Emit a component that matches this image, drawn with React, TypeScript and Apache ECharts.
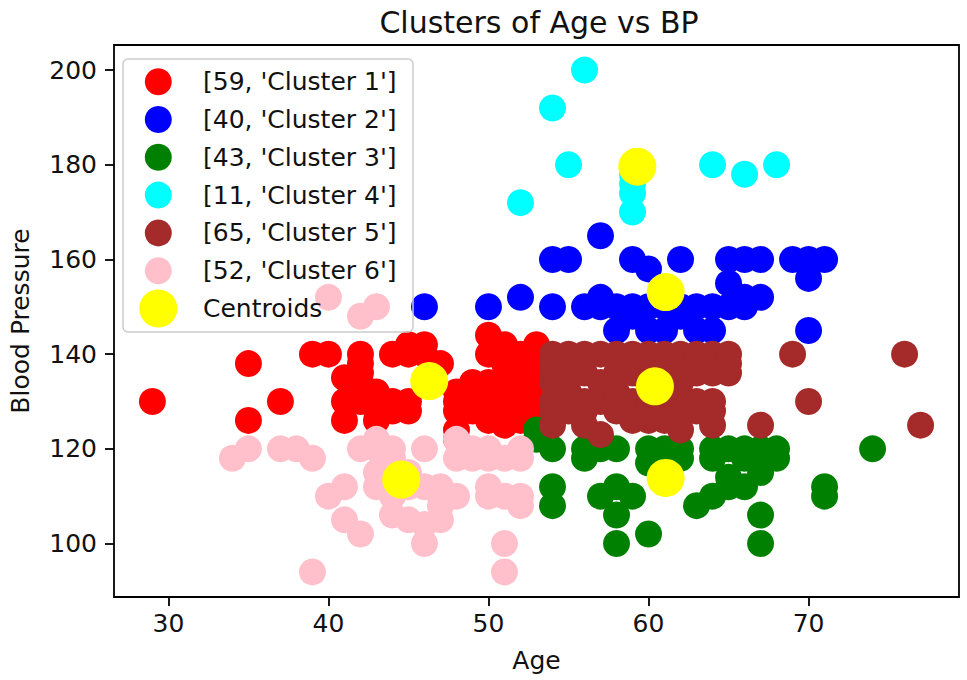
import React, { useEffect, useRef } from "react";
import * as echarts from "echarts";

const xTicks = [30, 40, 50, 60, 70];
const yTicks = [100, 120, 140, 160, 180, 200];

const clusterNames = [
  "[59, 'Cluster 1']",
  "[40, 'Cluster 2']",
  "[43, 'Cluster 3']",
  "[11, 'Cluster 4']",
  "[65, 'Cluster 5']",
  "[52, 'Cluster 6']",
];
const centroidName = "Centroids";
const clusterColors = ["#ff0000", "#0000ff", "#008000", "#00ffff", "#a52a2a", "#ffc0cb"];
const centroidColor = "#ffff00";

// [Age, Blood Pressure]
const cluster1 = [
  [29, 130], [35, 138], [35, 126], [37, 130], [39, 140], [40, 140], [42, 140], [44, 140], [45, 140], [46, 140],
  [45, 142], [47, 138], [41, 135], [42, 136], [41, 130], [42, 130], [43, 130], [44, 130], [45, 130], [41, 126],
  [45, 128], [43, 132], [48, 124], [48, 130], [49, 130], [50, 130], [51, 130], [52, 130], [53, 130], [49, 134],
  [50, 144], [50, 140], [51, 140], [53, 142], [51, 138], [52, 135], [50, 126], [51, 125], [52, 128], [53, 125],
  [52, 140], [44, 128], [42, 134], [46, 142], [48, 122], [53, 138], [53, 134], [52, 126], [51, 134], [42, 138],
  [48, 132], [48, 128], [50, 128], [49, 128], [50, 134], [54, 132], [51, 142], [43, 128], [43, 126],
];
const cluster2 = [
  [46, 150], [50, 150], [52, 152], [54, 150], [54, 160], [55, 160], [57, 165], [59, 160], [60, 158], [62, 160],
  [65, 160], [66, 160], [67, 160], [69, 160], [70, 160], [71, 160], [65, 155], [70, 156], [57, 152], [57, 150],
  [58, 150], [59, 150], [60, 150], [61, 150], [62, 150], [63, 150], [65, 150], [66, 152], [67, 152], [58, 145],
  [60, 145], [61, 145], [63, 145], [64, 145], [70, 145], [59, 148], [64, 150], [66, 150], [56, 150], [62, 148],
];
const cluster3 = [
  [53, 124], [54, 120], [56, 120], [57, 120], [58, 120], [60, 120], [61, 120], [62, 120], [64, 120], [65, 120],
  [66, 120], [67, 120], [68, 120], [74, 120], [71, 112], [71, 110], [68, 118], [67, 115], [66, 112], [65, 112],
  [64, 110], [63, 108], [54, 112], [54, 108], [57, 110], [58, 112], [59, 110], [58, 106], [58, 100], [60, 102],
  [67, 106], [67, 100], [60, 117], [61, 116], [61, 114], [66, 118], [65, 114], [62, 118], [53, 122], [64, 118],
  [67, 118], [61, 113], [56, 118],
];
const cluster4 = [
  [56, 200], [54, 192], [55, 180], [64, 180], [66, 178], [68, 180], [52, 172], [59, 174], [59, 170], [59, 178],
  [59, 176],
];
const cluster5 = [
  [54, 140], [55, 140], [56, 140], [57, 140], [58, 140], [59, 140], [60, 140], [61, 140], [62, 140], [63, 140],
  [64, 140], [65, 140], [54, 136], [55, 136], [56, 136], [58, 136], [59, 136], [60, 136], [61, 136], [62, 136],
  [63, 136], [64, 136], [65, 136], [54, 130], [55, 130], [56, 130], [57, 130], [58, 130], [59, 130], [60, 130],
  [61, 130], [62, 130], [63, 130], [64, 130], [54, 138], [63, 138], [54, 134], [57, 134], [60, 134], [62, 134],
  [55, 132], [58, 132], [61, 132], [54, 128], [56, 128], [58, 128], [60, 128], [62, 128], [64, 128], [54, 125],
  [56, 125], [57, 123], [60, 126], [62, 124], [64, 125], [59, 126], [61, 126], [63, 128], [65, 138], [55, 128],
  [69, 140], [76, 140], [70, 130], [77, 125], [67, 125],
];
const cluster6 = [
  [34, 118], [35, 120], [37, 120], [38, 120], [39, 118], [40, 110], [41, 112], [41, 105], [42, 102], [39, 94],
  [43, 120], [43, 122], [44, 120], [46, 120], [43, 115], [44, 110], [45, 112], [45, 105], [46, 100], [46, 104],
  [47, 110], [47, 112], [48, 110], [48, 122], [49, 118], [49, 120], [50, 120], [50, 110], [51, 110], [51, 100],
  [51, 94], [52, 120], [52, 110], [52, 108], [51, 118], [42, 120], [44, 118], [44, 112], [44, 106], [47, 108],
  [42, 148], [43, 150], [40, 152], [50, 112], [48, 118], [45, 115], [46, 112], [47, 105], [52, 118], [50, 118],
  [44, 115], [43, 112],
];
const centroids = [
  [46.3, 134.3], [61.07, 153.1], [61.07, 113.85], [59.3, 179.6], [60.4, 133.2], [44.55, 113.5],
];

const FONT = "DejaVu Sans";

export default function App() {
  const ref = useRef<HTMLDivElement>(null);
  useEffect(() => {
    if (!ref.current) return;
    const chart = echarts.init(ref.current, null, { renderer: "svg" });
    const clusters = [cluster1, cluster2, cluster3, cluster4, cluster5, cluster6];
    const series: any[] = clusters.map((d, i) => ({
      type: "scatter",
      name: clusterNames[i],
      data: d,
      symbol: "circle",
      symbolSize: 27,
      itemStyle: { color: clusterColors[i], opacity: 1 },
      emphasis: { disabled: true },
    }));
    series.push({
      type: "scatter",
      name: centroidName,
      data: centroids,
      symbol: "circle",
      symbolSize: 38,
      itemStyle: { color: centroidColor, opacity: 1 },
      emphasis: { disabled: true },
    });

    const legendNames = [...clusterNames, centroidName];
    const legendColors = [...clusterColors, centroidColor];
    const graphic: any[] = [
      {
        type: "rect",
        z: 100,
        shape: { x: 123, y: 59, width: 290, height: 273, r: 5 },
        style: { fill: "rgba(255,255,255,0)", stroke: "#cccccc", lineWidth: 1.5 },
      },
    ];
    legendNames.forEach((n, i) => {
      const cy = 81.7 + i * 37.8;
      graphic.push({
        type: "circle",
        z: 101,
        shape: { cx: 158.3, cy, r: i === 6 ? 19 : 13.5 },
        style: { fill: legendColors[i] },
      });
      graphic.push({
        type: "text",
        z: 101,
        x: 203,
        y: cy,
        style: {
          text: n,
          fontFamily: FONT,
          fontSize: 25,
          fill: "#111",
          align: "left",
          verticalAlign: "middle",
        },
      });
    });

    chart.setOption({
      animation: false,
      backgroundColor: "#ffffff",
      title: {
        text: "Clusters of Age vs BP",
        left: 534,
        top: 2,
        textAlign: "center",
        textStyle: { fontFamily: FONT, fontSize: 30, fontWeight: "normal", color: "#111" },
      },
      grid: {
        left: 109,
        right: 8,
        top: 45,
        bottom: 83,
        show: true,
        borderColor: "#000",
        borderWidth: 1.8,
        containLabel: false,
      },
      xAxis: {
        type: "value",
        min: 26.6,
        max: 79.4,
        name: "Age",
        nameLocation: "middle",
        nameGap: 51,
        nameTextStyle: { fontFamily: FONT, fontSize: 25, color: "#111" },
        axisLine: { show: false },
        splitLine: { show: false },
        axisTick: {
          show: true,
          inside: false,
          length: 9,
          customValues: xTicks,
          lineStyle: { color: "#000", width: 1.8 },
        },
        axisLabel: {
          customValues: xTicks,
          margin: 14,
          fontFamily: FONT,
          fontSize: 25,
          color: "#111",
        },
      },
      yAxis: {
        type: "value",
        min: 88.7,
        max: 205.3,
        name: "Blood Pressure",
        nameLocation: "middle",
        nameGap: 81,
        nameTextStyle: { fontFamily: FONT, fontSize: 25, color: "#111" },
        axisLine: { show: false },
        splitLine: { show: false },
        axisTick: {
          show: true,
          inside: false,
          length: 9,
          customValues: yTicks,
          lineStyle: { color: "#000", width: 1.8 },
        },
        axisLabel: {
          customValues: yTicks,
          margin: 17,
          fontFamily: FONT,
          fontSize: 25,
          color: "#111",
        },
      },
      graphic,
      series,
    });
    return () => chart.dispose();
  }, []);
  return (
    <div
      ref={ref}
      style={{ position: "fixed", left: 0, top: 0, width: 967, height: 680, background: "#fff" }}
    />
  );
}
